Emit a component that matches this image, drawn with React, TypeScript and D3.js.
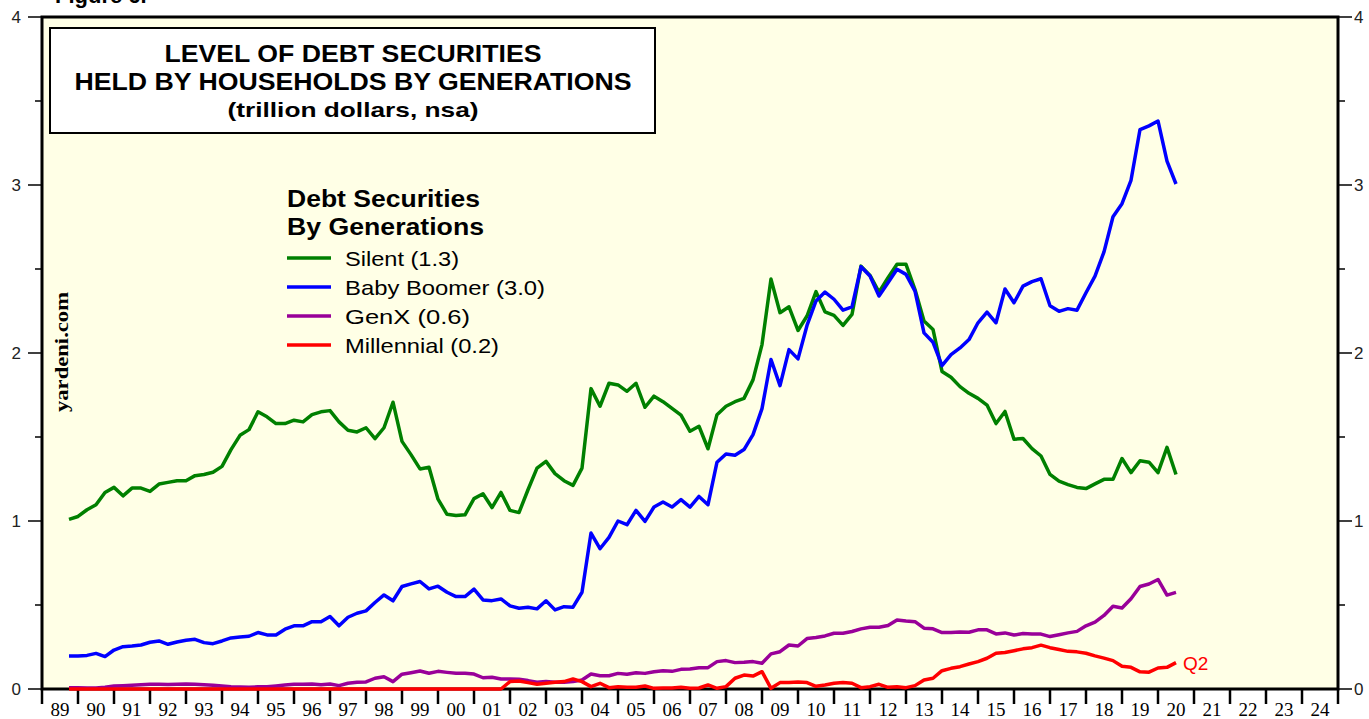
import * as d3 from "d3";
import { useEffect, useRef } from "react";

// quarterly, 1989 Q3 .. 2020 Q2 (trillion dollars)
const startYear = 1989;
const startQuarter = 3;

const silent = [
    1.01, 1.027, 1.067, 1.097, 1.17, 1.2, 1.15, 1.196, 1.196, 1.176, 1.22, 1.23, 1.24, 1.24, 1.27, 1.277, 1.29, 1.325, 1.425, 1.51,
    1.544, 1.65, 1.62, 1.58, 1.58, 1.6, 1.59, 1.633, 1.65, 1.657, 1.59, 1.54, 1.53, 1.555, 1.49, 1.555, 1.707, 1.474, 1.395, 1.31,
    1.32, 1.13, 1.04, 1.033, 1.037, 1.133, 1.162, 1.08, 1.17, 1.063, 1.05, 1.186, 1.315, 1.355, 1.282, 1.24, 1.212, 1.315, 1.788, 1.683,
    1.82, 1.81, 1.772, 1.82, 1.677, 1.743, 1.71, 1.67, 1.63, 1.534, 1.564, 1.43, 1.633, 1.683, 1.71, 1.73, 1.84, 2.05, 2.44, 2.24,
    2.275, 2.134, 2.22, 2.365, 2.245, 2.224, 2.164, 2.23, 2.517, 2.462, 2.362, 2.448, 2.528, 2.528, 2.378, 2.19, 2.14, 1.89, 1.856, 1.8,
    1.76, 1.73, 1.69, 1.58, 1.652, 1.487, 1.491, 1.431, 1.387, 1.277, 1.237, 1.217, 1.2, 1.193, 1.221, 1.248, 1.248, 1.372, 1.288, 1.359,
    1.35, 1.288, 1.438, 1.277,
];

const babyBoomer = [
    0.197, 0.197, 0.2, 0.212, 0.193, 0.232, 0.252, 0.256, 0.262, 0.278, 0.286, 0.266, 0.28, 0.29, 0.296, 0.276, 0.27, 0.286, 0.304, 0.31,
    0.314, 0.336, 0.322, 0.322, 0.356, 0.376, 0.376, 0.401, 0.4, 0.431, 0.376, 0.427, 0.451, 0.465, 0.515, 0.56, 0.525, 0.61, 0.626, 0.64,
    0.596, 0.612, 0.576, 0.55, 0.55, 0.594, 0.53, 0.526, 0.536, 0.495, 0.481, 0.487, 0.477, 0.525, 0.471, 0.49, 0.487, 0.576, 0.928, 0.835,
    0.902, 1.0, 0.978, 1.063, 0.998, 1.083, 1.113, 1.083, 1.127, 1.083, 1.146, 1.097, 1.35, 1.399, 1.391, 1.425, 1.514, 1.669, 1.961, 1.806,
    2.02, 1.965, 2.164, 2.31, 2.363, 2.32, 2.255, 2.275, 2.513, 2.458, 2.339, 2.418, 2.498, 2.468, 2.368, 2.12, 2.064, 1.925, 1.99, 2.03,
    2.08, 2.18, 2.243, 2.18, 2.381, 2.299, 2.398, 2.425, 2.442, 2.281, 2.248, 2.264, 2.255, 2.359, 2.458, 2.602, 2.811, 2.889, 3.028, 3.33,
    3.352, 3.381, 3.142, 3.006,
];

const genX = [
    0.008, 0.008, 0.006, 0.006, 0.01, 0.018, 0.02, 0.022, 0.025, 0.028, 0.028, 0.027, 0.028, 0.03, 0.028, 0.025, 0.022, 0.018, 0.014, 0.012,
    0.01, 0.013, 0.013, 0.018, 0.024, 0.028, 0.028, 0.03, 0.026, 0.03, 0.02, 0.034, 0.04, 0.042, 0.064, 0.073, 0.044, 0.088, 0.097, 0.107,
    0.094, 0.105, 0.099, 0.094, 0.094, 0.089, 0.067, 0.07, 0.06, 0.06, 0.058, 0.05, 0.04, 0.044, 0.04, 0.04, 0.044, 0.054, 0.089, 0.079,
    0.079, 0.093, 0.088, 0.097, 0.093, 0.103, 0.109, 0.105, 0.117, 0.119, 0.127, 0.127, 0.163, 0.169, 0.157, 0.159, 0.163, 0.153, 0.209, 0.222,
    0.262, 0.256, 0.3, 0.306, 0.316, 0.332, 0.332, 0.342, 0.358, 0.368, 0.368, 0.378, 0.411, 0.405, 0.401, 0.362, 0.358, 0.336, 0.336, 0.34,
    0.338, 0.352, 0.352, 0.328, 0.334, 0.321, 0.33, 0.327, 0.327, 0.312, 0.323, 0.334, 0.343, 0.376, 0.398, 0.438, 0.493, 0.482, 0.537, 0.61,
    0.625, 0.652, 0.559, 0.575,
];

const millennial = [
    0, 0, 0, 0, 0, 0, 0, 0, 0, 0, 0, 0, 0, 0, 0, 0, 0, 0, 0, 0,
    0, 0, 0, 0, 0, 0, 0, 0, 0, 0, 0, 0, 0, 0, 0, 0, 0, 0, 0, 0,
    0, 0, 0, 0, 0, 0, 0, 0, 0, 0.044, 0.048, 0.038, 0.028, 0.034, 0.04, 0.044, 0.06, 0.044, 0.014, 0.034,
    0.008, 0.014, 0.01, 0.01, 0.018, 0.004, 0.006, 0.006, 0.01, 0.004, 0.006, 0.024, 0.004, 0.014, 0.064, 0.083, 0.077, 0.103, 0.004, 0.038,
    0.038, 0.042, 0.038, 0.016, 0.024, 0.034, 0.038, 0.034, 0.008, 0.014, 0.028, 0.01, 0.014, 0.008, 0.02, 0.054, 0.064, 0.109, 0.123, 0.133,
    0.149, 0.163, 0.183, 0.213, 0.217, 0.228, 0.239, 0.246, 0.261, 0.246, 0.235, 0.224, 0.221, 0.213, 0.197, 0.184, 0.169, 0.135, 0.129, 0.102,
    0.1, 0.125, 0.129, 0.157,
];

const yearLabels = [
    "89", "90", "91", "92", "93", "94", "95", "96", "97", "98", "99", "00",
    "01", "02", "03", "04", "05", "06", "07", "08", "09", "10", "11", "12",
    "13", "14", "15", "16", "17", "18", "19", "20", "21", "22", "23", "24",
];
const yTicks = [0, 1, 2, 3, 4];
const yMinorTicks = [0.5, 1.5, 2.5, 3.5];

const titleLines = ["LEVEL OF DEBT SECURITIES", "HELD BY HOUSEHOLDS BY GENERATIONS", "(trillion dollars, nsa)"];
const legendTitle = ["Debt Securities", "By Generations"];
const seriesNames = ["Silent (1.3)", "Baby Boomer (3.0)", "GenX (0.6)", "Millennial (0.2)"];
const seriesColors = ["#008000", "#0000ff", "#990099", "#ff0000"];

export default function App() {
    const svgRef = useRef<SVGSVGElement | null>(null);

    useEffect(() => {
        if (!svgRef.current) return;
        const svg = d3.select(svgRef.current);
        svg.selectAll("*").remove();

        const totalW = 1369;
        const totalH = 719;
        const left = 42, right = 1338, top = 17, bottom = 689;
        const sans = "'Liberation Sans', Arial, sans-serif";
        const serif = "'Liberation Serif', 'Times New Roman', serif";

        svg.attr("width", totalW).attr("height", totalH);

        const x = d3.scaleLinear().domain([1989, 2025]).range([left, right]);
        const y = d3.scaleLinear().domain([0, 4]).range([bottom, top]);

        const dates = silent.map((_, i) => startYear + (startQuarter + i) / 4);

        // cut-off figure caption at the very top
        svg.append("text")
            .attr("x", 55).attr("y", 3)
            .attr("font-family", sans).attr("font-weight", "bold").attr("font-size", 22)
            .text("Figure 6.");

        // plot background + frame
        svg.append("rect")
            .attr("x", left).attr("y", top)
            .attr("width", right - left).attr("height", bottom - top)
            .attr("fill", "#ffffe6")
            .attr("stroke", "#000").attr("stroke-width", 3);

        // y ticks, both sides
        const yAxis = svg.append("g").attr("stroke", "#000").attr("stroke-width", 1.5);
        yTicks.forEach((t) => {
            yAxis.append("line").attr("x1", left - 14).attr("x2", left).attr("y1", y(t)).attr("y2", y(t));
            yAxis.append("line").attr("x1", right).attr("x2", right + 14).attr("y1", y(t)).attr("y2", y(t));
        });
        yMinorTicks.forEach((t) => {
            yAxis.append("line").attr("x1", left - 7).attr("x2", left).attr("y1", y(t)).attr("y2", y(t));
            yAxis.append("line").attr("x1", right).attr("x2", right + 7).attr("y1", y(t)).attr("y2", y(t));
        });
        yTicks.forEach((t) => {
            svg.append("text")
                .attr("x", 21).attr("y", y(t) + 6)
                .attr("text-anchor", "end")
                .attr("font-family", sans).attr("font-size", 17).attr("fill", "#222")
                .text(t);
            svg.append("text")
                .attr("x", 1354).attr("y", y(t) + 6)
                .attr("font-family", sans).attr("font-size", 17).attr("fill", "#222")
                .text(t);
        });

        // x ticks at year boundaries, labels centred in each year
        const xAxis = svg.append("g");
        d3.range(1989, 2026).forEach((yr) => {
            xAxis.append("line")
                .attr("x1", x(yr)).attr("x2", x(yr))
                .attr("y1", bottom).attr("y2", bottom + 15)
                .attr("stroke", "#000").attr("stroke-width", 2.5);
        });
        yearLabels.forEach((lab, i) => {
            xAxis.append("text")
                .attr("x", x(1989 + i + 0.5)).attr("y", 716)
                .attr("text-anchor", "middle")
                .attr("font-family", serif).attr("font-size", 19)
                .text(lab);
        });

        // title box
        svg.append("rect")
            .attr("x", 50).attr("y", 28).attr("width", 605).attr("height", 105)
            .attr("fill", "#fff").attr("stroke", "#000").attr("stroke-width", 2);
        const titleSpecs = [
            { yy: 62, len: 377, size: 24 },
            { yy: 90, len: 557, size: 24 },
            { yy: 117, len: 251, size: 21 },
        ];
        titleLines.forEach((t, i) => {
            svg.append("text")
                .attr("x", 353).attr("y", titleSpecs[i].yy)
                .attr("text-anchor", "middle")
                .attr("font-family", sans).attr("font-weight", "bold")
                .attr("font-size", titleSpecs[i].size)
                .attr("textLength", titleSpecs[i].len)
                .attr("lengthAdjust", "spacingAndGlyphs")
                .text(t);
        });

        // watermark
        svg.append("text")
            .attr("transform", "translate(68,352) rotate(-90)")
            .attr("text-anchor", "middle")
            .attr("font-family", serif).attr("font-weight", "bold").attr("font-size", 19)
            .attr("textLength", 120).attr("lengthAdjust", "spacingAndGlyphs")
            .text("yardeni.com");

        // legend
        const legendLens = [193, 197];
        legendTitle.forEach((t, i) => {
            svg.append("text")
                .attr("x", 287).attr("y", 207 + i * 28)
                .attr("font-family", sans).attr("font-weight", "bold").attr("font-size", 23)
                .attr("textLength", legendLens[i]).attr("lengthAdjust", "spacingAndGlyphs")
                .text(t);
        });
        const labelLens = [114, 200, 125, 154];
        seriesNames.forEach((name, i) => {
            const ly = 258 + i * 29;
            svg.append("line")
                .attr("x1", 287).attr("x2", 331).attr("y1", ly).attr("y2", ly)
                .attr("stroke", seriesColors[i]).attr("stroke-width", 3.5);
            svg.append("text")
                .attr("x", 345).attr("y", ly + 8)
                .attr("font-family", sans).attr("font-size", 21)
                .attr("textLength", labelLens[i]).attr("lengthAdjust", "spacingAndGlyphs")
                .text(name);
        });

        // series
        const line = d3
            .line<number>()
            .x((d, i) => x(dates[i]))
            .y((d) => y(d));

        [silent, babyBoomer, genX, millennial].forEach((s, i) => {
            svg.append("path")
                .datum(s)
                .attr("fill", "none")
                .attr("stroke", seriesColors[i])
                .attr("stroke-width", 3.5)
                .attr("stroke-linejoin", "round")
                .attr("d", line);
        });

        const last = millennial.length - 1;
        svg.append("text")
            .attr("x", x(dates[last]) + 7).attr("y", y(millennial[last]) + 7)
            .attr("font-family", sans).attr("font-size", 19).attr("fill", "#ff0000")
            .text("Q2");
    }, []);

    return (
        <svg
            ref={svgRef}
            style={{ position: "absolute", left: 0, top: 0, display: "block", background: "#fff" }}
        />
    );
}
